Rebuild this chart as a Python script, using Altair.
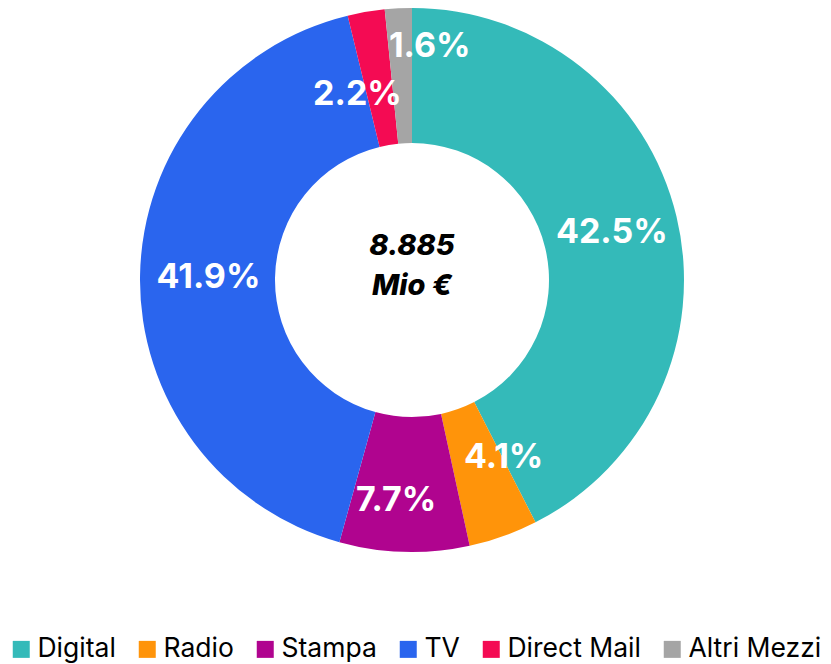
import altair as alt
import pandas as pd

categories = ["Digital", "Radio", "Stampa", "TV", "Direct Mail", "Altri Mezzi"]
shares = [42.5, 4.1, 7.7, 41.9, 2.2, 1.6]
labels = ["42.5%", "4.1%", "7.7%", "41.9%", "2.2%", "1.6%"]
colors = ["#34BAB9", "#FF940A", "#B0048F", "#2A65EE", "#F40B53", "#A5A5A5"]
center_lines = ["8.885", "Mio €"]

df = pd.DataFrame({"cat": categories, "share": shares, "label": labels,
                   "order": list(range(len(categories)))})

FONT = "Inter"
R_OUT = 272
R_IN = 137
R_MID = (R_OUT + R_IN) / 2

theta_scale = alt.Scale(domain=[0, 100], range=[0, 6.283185307179586])

base = alt.Chart(df).transform_window(
    cum="sum(share)", sort=[alt.SortField("order")],
).transform_calculate(
    start="datum.cum - datum.share",
    mid="datum.cum - datum.share / 2",
)

arcs = base.mark_arc(outerRadius=R_OUT, innerRadius=R_IN).encode(
    theta=alt.Theta("start:Q", scale=theta_scale),
    theta2="cum:Q",
    color=alt.Color(
        "cat:N",
        scale=alt.Scale(domain=categories, range=colors),
        sort=categories,
        legend=alt.Legend(
            title=None, orient="bottom", direction="horizontal",
            symbolType="square", symbolSize=289, symbolStrokeWidth=0,
            labelFont=FONT, labelFontSize=26.5, labelColor="#000000",
            labelOffset=3, columnPadding=18, offset=87, labelLimit=300,
        ),
    ),
)

def lbl(names, dx=0, dy=0):
    return base.mark_text(
        radius=R_MID, font=FONT, fontSize=34, fontWeight="bold",
        color="white", dx=dx, dy=dy,
    ).encode(
        theta=alt.Theta("mid:Q", scale=theta_scale),
        text="label:N",
    ).transform_filter(
        alt.FieldOneOfPredicate(field="cat", oneOf=names)
    )

texts = [
    lbl(["Digital", "TV"], 1, 1),
    lbl(["Radio"], 23, -15),
    lbl(["Stampa"], -10, 17),
    lbl(["Direct Mail"], -20, 17),
    lbl(["Altri Mezzi"], 28, -29),
]

cdf = pd.DataFrame({"t": ["\n".join(center_lines)]})
center = alt.Chart(cdf).mark_text(
    font=FONT, fontSize=29, fontWeight=800, fontStyle="italic", color="black",
    lineBreak="\n", lineHeight=40, dy=-34,
).encode(text="t:N")

chart = alt.layer(arcs, *texts, center).properties(
    width=808, height=538, padding=0
).configure_view(stroke=None)

chart.save("out.html", embed_options={"renderer": "svg", "actions": False})
